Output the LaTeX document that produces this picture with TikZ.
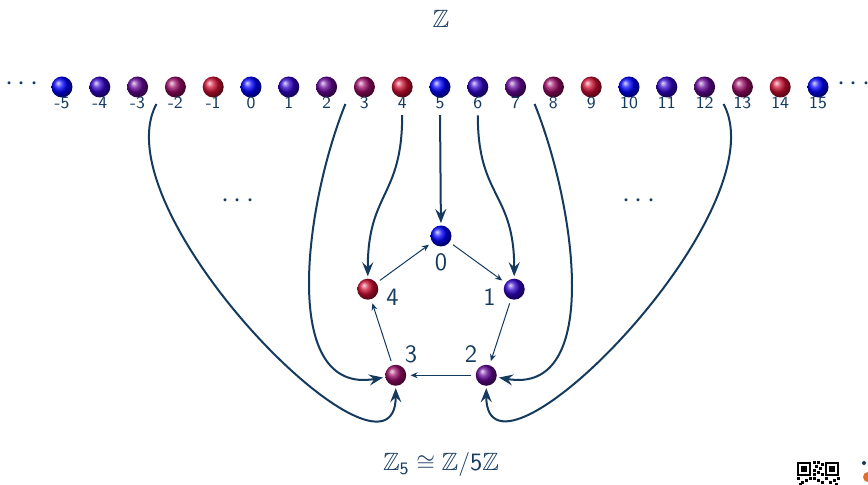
\documentclass[tikz,border=0pt]{standalone}
\usepackage{amssymb}
\usepackage{fontspec}
\usetikzlibrary{arrows.meta,calc}
\definecolor{navy}{RGB}{20,58,94}
\definecolor{crimson}{RGB}{205,15,50}
\definecolor{logoorange}{RGB}{226,110,40}

\begin{document}
\begin{tikzpicture}[
  x=0.5pt, y=0.5pt,
  ball/.style={circle, inner sep=0pt, minimum size=10.5pt, shading=ball},
  numlabel/.style={text=navy, font=\sffamily\fontsize{8.6}{10}\selectfont, inner sep=1pt},
  reslabel/.style={text=navy, font=\sffamily\fontsize{12.5}{14}\selectfont, inner sep=0pt},
  title/.style={text=navy, font=\fontsize{12.5}{14}\selectfont},
  dots/.style={text=navy, font=\fontsize{14}{16}\selectfont, anchor=base, inner sep=0pt},
  cyclearrow/.style={-{Stealth[length=3.5pt,width=3pt]}, navy, line width=0.5pt, shorten <=2pt, shorten >=2pt},
  maparrow/.style={-{Stealth[length=7pt,width=5.5pt,inset=2.5pt]}, navy, line width=1pt, shorten >=1pt},
  qrmod/.style={fill=black, draw=none}
]
\useasboundingbox (0,0) rectangle (868,485);

\node[title] (zz) at (441,466) {$\mathbb{Z}$};

% the integers
\foreach \k in {-5,...,15}{
  \pgfmathtruncatemacro{\r}{mod(\k+10,5)}
  \pgfmathtruncatemacro{\pct}{25*\r}
  \node[ball, ball color=crimson!\pct!blue] (z\k) at ({251+37.8*\k},398) {};
  \node[numlabel] (l\k) at ($(z\k)+(0,-16)$) {\k};
}
\node[dots] (dl) at (22,394) {$\cdots$};
\node[dots] (dr) at (854,394) {$\cdots$};

% the residues
\coordinate (c) at (441,172);
\foreach \r/\a in {0/90,1/18,2/-54,3/-126,4/162}{
  \pgfmathtruncatemacro{\pct}{25*\r}
  \node[ball, ball color=crimson!\pct!blue] (r\r) at ($(c)+(\a:77)$) {};
  \node[reslabel] (q\r) at ($(c)+(\a:51)$) {\r};
}
\foreach \i/\j in {0/1,1/2,2/3,3/4,4/0}
  \draw[cyclearrow] (r\i) -- (r\j);

\node[dots] (ml) at (238,277) {$\cdots$};
\node[dots] (mr) at (639,277) {$\cdots$};

% reduction mod 5
\draw[maparrow, shorten <=2pt] (l5.south) -- (r0);
\draw[maparrow, shorten <=2pt] (l4.south) to[out=-90, in=90, looseness=1.3] (r4);
\draw[maparrow, shorten <=2pt] (l6.south) to[out=-90, in=90, looseness=1.3] (r1);
\draw[maparrow] ([shift={(-19,-17)}]z3.center) to[out=-112, in=190, looseness=1.0] (r3);
\draw[maparrow] ([shift={(19,-17)}]z7.center) to[out=-68, in=-10, looseness=1.0] (r2);
\draw[maparrow] ([shift={(-19,-17)}]z-2.center) to[out=-118, in=-90, looseness=0.85] (r3);
\draw[maparrow] ([shift={(19,-17)}]z12.center) to[out=-62, in=-90, looseness=0.85] (r2);

\node[title] (iso) at (441,20) {$\mathbb{Z}_{\mathsf{5}}\cong\mathbb{Z}/\mathsf{5}\mathbb{Z}$};

% qr code and logo in the corner
\foreach \qx in {797,825}{
  \fill[black] (\qx,9) rectangle ++(14,14);
  \fill[white] (\qx+2,11) rectangle ++(10,10);
  \fill[black] (\qx+4,13) rectangle ++(6,6);
}
\foreach \mx/\my in {813/21,817/21,815/17,819/15,813/13,817/11,821/9,813/5,817/3,821/1,
                      797/5,801/1,805/3,809/5,799/-1,825/5,829/1,833/3,837/5,835/-1,821/19,813/9}
  \fill[qrmod] (\mx,\my) rectangle ++(2.5,2.5);
\fill[navy] (864,22) circle (2);
\fill[logoorange] (868,8) circle (5);
\end{tikzpicture}
\end{document}
